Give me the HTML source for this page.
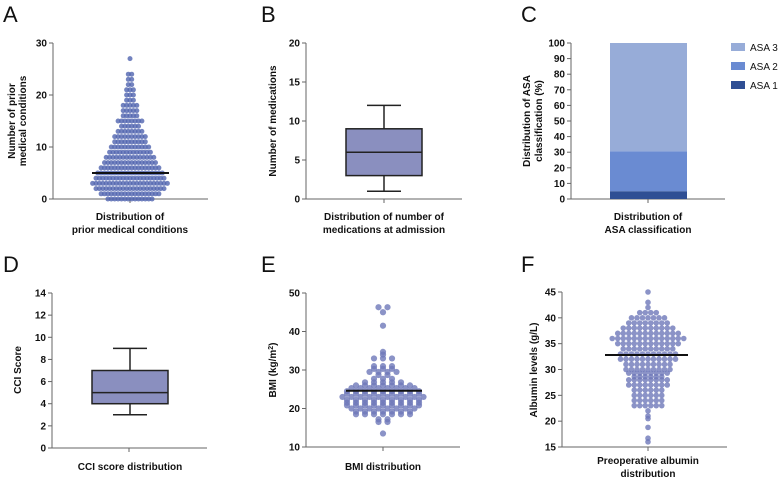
<!DOCTYPE html>
<html><head><meta charset="utf-8"><style>
html,body{margin:0;padding:0;background:#fff}
svg{display:block;font-family:"Liberation Sans",Arial,sans-serif}
.tk{font-size:10px;font-weight:bold;fill:#111}
.lb{font-size:10px;font-weight:bold;fill:#111}
.pl{font-size:22px;fill:#111}
</style></head><body>
<svg id="fig" width="780" height="483" viewBox="0 0 780 483"></svg>
<script>
// Panel A: prior medical conditions (value, count)
const aValues = [0,1,2,3,4,5,6,7,8,9,10,11,12,13,14,15,16,17,18,19,20,21,22,23,24,27];
const aCounts = [14,18,21,23,21,20,18,16,15,13,12,10,10,8,6,8,5,5,5,3,3,3,2,2,2,1];
const aMedian = 5;
const aTicks = [0,10,20,30];
// Panel B: medications box
const bBox = [1,3,6,9,12]; // min,q1,median,q3,max
const bTicks = [0,5,10,15,20];
// Panel C: ASA stacked
const cCats = ["ASA 1","ASA 2","ASA 3"];
const cVals = [5,25.5,69.5];
const cTicks = [0,10,20,30,40,50,60,70,80,90,100];
// Panel D: CCI box
const dBox = [3,4,5,7,9];
const dTicks = [0,2,4,6,8,10,12,14];
// Panel E: BMI (value, count)
const eValues = [13.5,16.5,17.2,18.5,19.2,20,20.8,21.5,22.2,23,23.8,24.5,25.3,26,26.8,27.7,28.7,29.5,30.3,31,33,34,34.7,41.5,45,46.3];
const eCounts = [1,2,2,7,7,8,9,9,9,10,9,9,8,7,5,3,2,4,3,3,3,1,1,1,1,2];
const eMedian = 24.6;
const eTicks = [10,20,30,40,50];
// Panel F: albumin (value, count)
const fValues = [16,16.7,18.8,20.5,21,22,23,24,25,26,27,28,28.6,29.3,30,31,32,33,34,35,36,37,38,39,40,41,42,43,45];
const fCounts = [1,1,1,1,1,1,6,6,6,6,8,8,6,8,9,9,11,11,10,12,14,12,10,8,7,4,1,1,1];
const fMedian = 32.8;
const fTicks = [15,20,25,30,35,40,45];

const NS="http://www.w3.org/2000/svg";
const svg=document.getElementById('fig');
function el(tag,attrs,parent){const e=document.createElementNS(NS,tag);for(const k in attrs)e.setAttribute(k,attrs[k]);(parent||svg).appendChild(e);return e;}
function txt(x,y,s,cls,anchor,rot){const t=el('text',{x:x,y:y,'class':cls,'text-anchor':anchor||'middle'});if(rot)t.setAttribute('transform','rotate(-90 '+x+' '+y+')');t.textContent=s;return t;}

function axes(p){
  const sc=v=>p.y0+(v-p.min)/(p.max-p.min)*(p.y1-p.y0);
  const g=el('g',{});
  
  
  el('line',{x1:p.x,y1:p.y1,x2:p.x,y2:p.y0,stroke:'#666','stroke-width':1},g);
  el('line',{x1:p.x,y1:p.y0,x2:p.xe,y2:p.y0,stroke:'#666','stroke-width':1},g);
  el('line',{x1:p.cx,y1:p.y0,x2:p.cx,y2:p.y0+4,stroke:'#666','stroke-width':1},g);
  p.ticks.forEach(v=>{const y=sc(v);
    el('line',{x1:p.x-4,y1:y,x2:p.x,y2:y,stroke:'#666','stroke-width':1},g);
    const t=txt(p.x-6,y+3.5,String(v),'tk','end');
    
    
  });
  return sc;
}
function beeswarm(vals,counts,sc,cx,step,r,color,name){
  vals.forEach((v,i)=>{const n=counts[i];const y=sc(v);
    for(let k=0;k<n;k++){const off=(k-(n-1)/2)*step;
      const c=el('circle',{cx:cx+off,cy:y,r:r,fill:color});
      
      
    }});
}
function boxplot(b,sc,cx,hw,cw,name){
  const g=el('g',{});
  
  
  const s='#222';
  el('line',{x1:cx,y1:sc(b[0]),x2:cx,y2:sc(b[1]),stroke:s,'stroke-width':1.5},g);
  el('line',{x1:cx,y1:sc(b[3]),x2:cx,y2:sc(b[4]),stroke:s,'stroke-width':1.5},g);
  el('line',{x1:cx-cw,y1:sc(b[0]),x2:cx+cw,y2:sc(b[0]),stroke:s,'stroke-width':1.5},g);
  el('line',{x1:cx-cw,y1:sc(b[4]),x2:cx+cw,y2:sc(b[4]),stroke:s,'stroke-width':1.5},g);
  el('rect',{x:cx-hw,y:sc(b[3]),width:2*hw,height:sc(b[1])-sc(b[3]),fill:'#8a8fbf',stroke:s,'stroke-width':1.5},g);
  el('line',{x1:cx-hw,y1:sc(b[2]),x2:cx+hw,y2:sc(b[2]),stroke:s,'stroke-width':1.5},g);
}
function medLine(v,sc,x1,x2,name){const l=el('line',{x1:x1,y1:sc(v),x2:x2,y2:sc(v),stroke:'#111','stroke-width':2});
  
  }

// Panel letters
[['A',3,22],['B',261,22],['C',521,22],['D',3,272],['E',261,272],['F',521,272]].forEach(a=>{const t=txt(a[1],a[2],a[0],'pl','start');
  
  });

// A
const scA=axes({name:'panel-a',x:53,xe:208,cx:130,y0:199,y1:43,min:0,max:30,ticks:aTicks});
beeswarm(aValues,aCounts,scA,130,3.4,2.5,'rgba(80,100,175,0.8)','panel-a');
medLine(aMedian,scA,92,169,'panel-a');
txt(15,121,'Number of prior','lb','middle',true);
txt(26,121,'medical conditions','lb','middle',true);
txt(130,220,'Distribution of','lb');
txt(130,233,'prior medical conditions','lb');

// B
const scB=axes({name:'panel-b',x:306,xe:462,cx:384,y0:199,y1:43,min:0,max:20,ticks:bTicks});
boxplot(bBox,scB,384,38,17,'panel-b');
txt(276,121,'Number of medications','lb','middle',true);
txt(384,220,'Distribution of number of','lb');
txt(384,233,'medications at admission','lb');

// C
const scC=axes({name:'panel-c',x:571,xe:725,cx:648,y0:199,y1:43,min:0,max:100,ticks:cTicks});
const cColors=['#2f4f94','#6a8bd2','#97acd8'];
let acc=0;
cVals.forEach((v,i)=>{const r=el('rect',{x:610,y:scC(acc+v),width:77,height:scC(acc)-scC(acc+v),fill:cColors[i]});
  
  
  acc+=v;});
[2,1,0].forEach((i,j)=>{const y=47+j*19;
  const r=el('rect',{x:731,y:y-4,width:14,height:8,fill:cColors[i]});
  
  
  const t=txt(750,y+4,cCats[i],'tk','start');t.style.fontWeight='normal';t.style.fontSize='10px';
  
  });
txt(530,121,'Distribution of ASA','lb','middle',true);
txt(542,121,'classification (%)','lb','middle',true);
txt(648,220,'Distribution of','lb');
txt(648,233,'ASA classification','lb');

// D
const scD=axes({name:'panel-d',x:52,xe:207,cx:129,y0:448,y1:293,min:0,max:14,ticks:dTicks});
boxplot(dBox,scD,130,38,17,'panel-d');
txt(21,370,'CCI Score','lb','middle',true);
txt(130,470,'CCI score distribution','lb');

// E
const scE=axes({name:'panel-e',x:306,xe:460,cx:383,y0:447,y1:293,min:10,max:50,ticks:eTicks});
beeswarm(eValues,eCounts,scE,383,9,3.1,'rgba(110,120,185,0.8)','panel-e');
medLine(eMedian,scE,346,422,'panel-e');
const ey=el('text',{x:276,y:370,'class':'lb','text-anchor':'middle',transform:'rotate(-90 276 370)'});


ey.innerHTML='BMI (kg/m<tspan font-size="7" dy="-3">2</tspan><tspan dy="3">)</tspan>';
txt(383,470,'BMI distribution','lb');

// F
const scF=axes({name:'panel-f',x:562,xe:727,cx:648,y0:447,y1:292,min:15,max:45,ticks:fTicks});
beeswarm(fValues,fCounts,scF,648,5.5,2.8,'rgba(110,120,185,0.8)','panel-f');
medLine(fMedian,scF,605,688,'panel-f');
txt(537,370,'Albumin levels (g/L)','lb','middle',true);
txt(648,464,'Preoperative albumin','lb');
txt(648,477,'distribution','lb');
</script>
</body></html>
